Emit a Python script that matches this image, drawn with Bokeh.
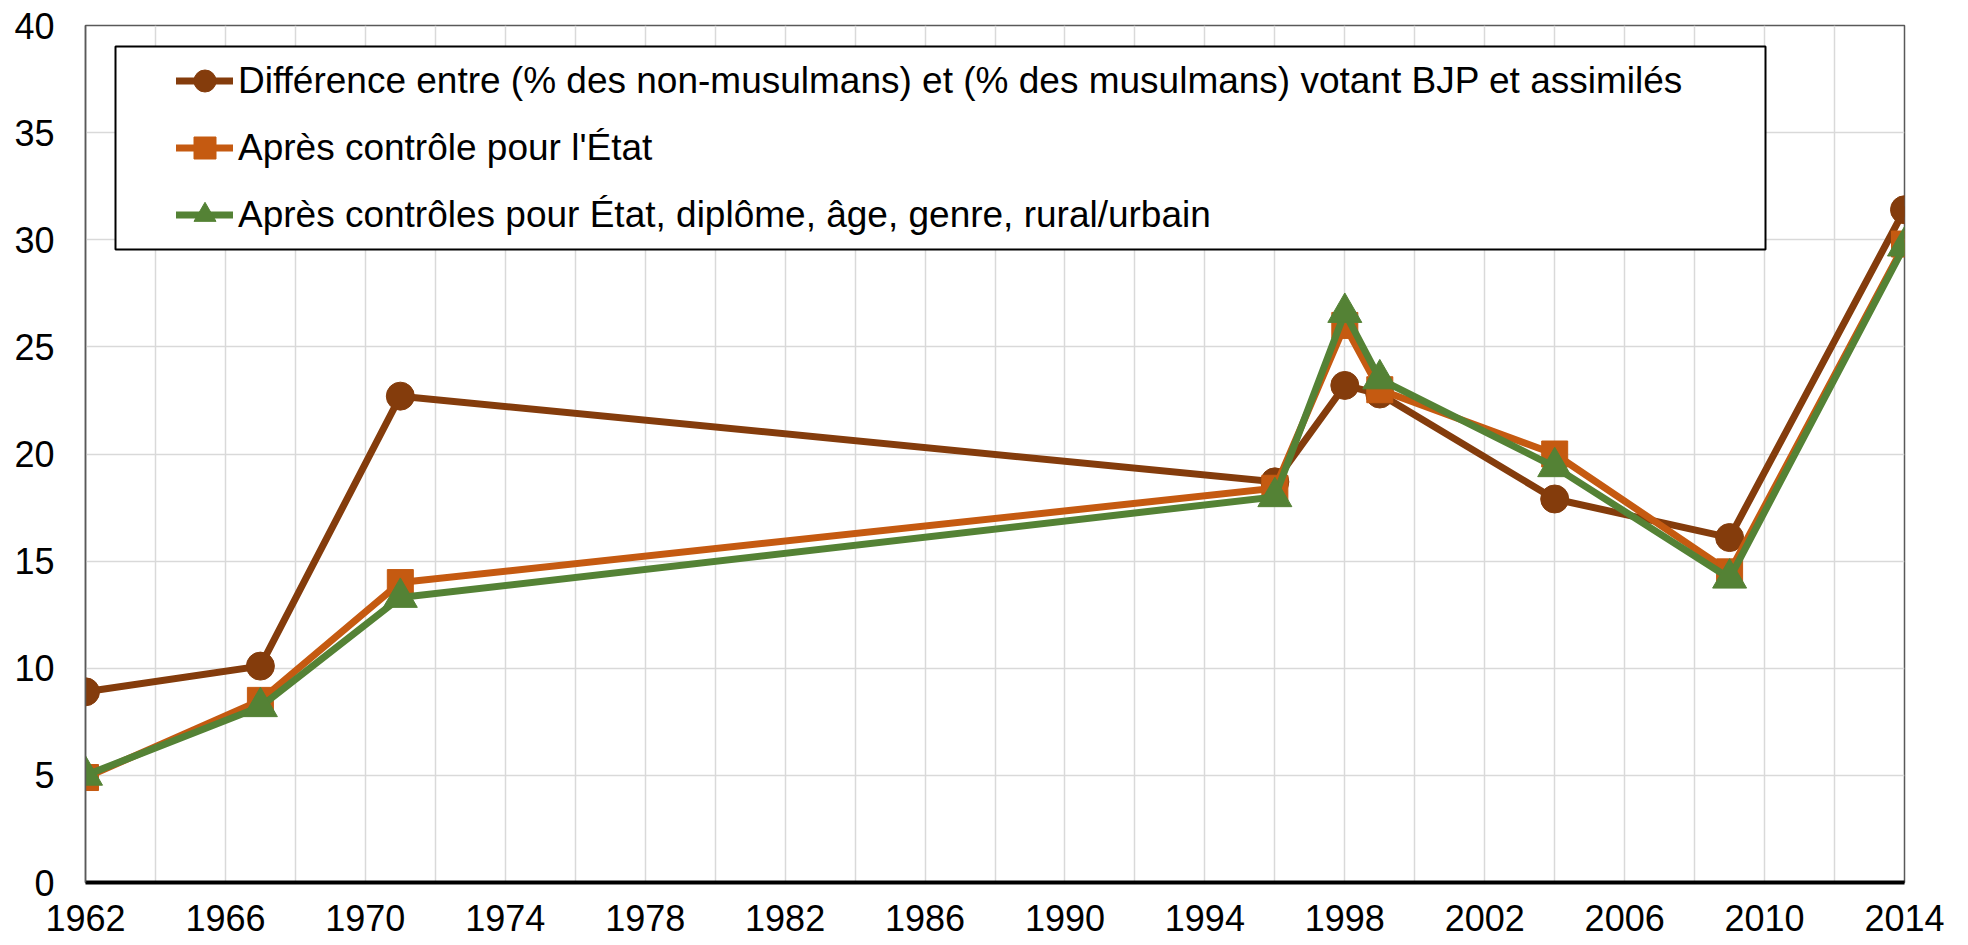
from bokeh.plotting import figure
from bokeh.models import Range1d, FixedTicker, Legend, LegendItem, BoxAnnotation
from bokeh.embed import file_html
from bokeh.resources import INLINE

years = [1962, 1967, 1971, 1996, 1998, 1999, 2004, 2009, 2014]
diff_raw = [8.9, 10.1, 22.7, 18.7, 23.2, 22.8, 17.9, 16.1, 31.4]
ctrl_state = [4.9, 8.5, 14.0, 18.4, 26.0, 23.0, 20.0, 14.5, 29.8]
ctrl_all = [5.0, 8.2, 13.3, 18.0, 26.6, 23.5, 19.4, 14.2, 29.7]

labels = [
    "Différence entre (% des non-musulmans) et (% des musulmans) votant BJP et assimilés",
    "Après contrôle pour l'État",
    "Après contrôles pour État, diplôme, âge, genre, rural/urbain",
]
colors = ["#843C0C", "#C55A11", "#548235"]
markers = ["circle", "square", "triangle"]
msizes = [28, 26, 34]

x_label_ticks = list(range(1962, 2015, 4))
x_grid_ticks = list(range(1962, 2015, 2))
y_ticks = list(range(0, 41, 5))

FONT = "Liberation Sans"
TICK_FS = "36px"
LEG_FS = "37px"

p = figure(width=1954, height=945, output_backend="svg", toolbar_location=None,
           x_range=Range1d(1962, 2014), y_range=Range1d(0, 40),
           min_border_left=85, min_border_right=50, min_border_top=25, min_border_bottom=63)
p.background_fill_color = "white"
p.border_fill_color = "white"
p.outline_line_color = "#595959"
p.outline_line_width = 1.5

p.xaxis.ticker = FixedTicker(ticks=x_label_ticks)
p.yaxis.ticker = FixedTicker(ticks=y_ticks)
p.xgrid.ticker = FixedTicker(ticks=x_grid_ticks)
p.ygrid.ticker = FixedTicker(ticks=y_ticks)
p.xgrid.grid_line_color = "#D9D9D9"
p.ygrid.grid_line_color = "#D9D9D9"
p.xgrid.grid_line_width = 1.5
p.ygrid.grid_line_width = 1.5

for ax in (p.xaxis, p.yaxis):
    ax.major_tick_line_color = None
    ax.minor_tick_line_color = None
    ax.major_tick_out = 0
    ax.major_tick_in = 0
    ax.major_label_text_font = FONT
    ax.major_label_text_font_size = TICK_FS
    ax.major_label_text_color = "black"
p.xaxis.axis_line_color = "black"
p.xaxis.axis_line_width = 4
p.yaxis.axis_line_color = "#595959"
p.yaxis.axis_line_width = 1.5
p.xaxis.major_label_standoff = 22
p.yaxis.major_label_standoff = 31

box = BoxAnnotation(left=30, right=1680, bottom=633, top=836,
                    left_units="screen", right_units="screen",
                    bottom_units="screen", top_units="screen",
                    fill_color="white", fill_alpha=1.0,
                    line_color="black", line_alpha=1.0, line_width=2)
p.add_layout(box)

items = []
for ys, c, m, s, lab in zip([diff_raw, ctrl_state, ctrl_all], colors, markers, msizes, labels):
    ln = p.line(years, ys, line_color=c, line_width=7, line_join="round", line_cap="round")
    sc = p.scatter(years, ys, marker=m, size=s, fill_color=c, line_color=c, line_width=1)
    items.append(LegendItem(label=lab, renderers=[ln, sc]))

legend = Legend(items=items, location=(91, 640), margin=0, padding=0,
                glyph_width=57, glyph_height=55, label_height=55,
                spacing=12, label_standoff=5,
                label_text_font=FONT, label_text_font_size=LEG_FS,
                label_text_color="black", label_text_baseline="middle",
                border_line_alpha=0, background_fill_alpha=0)
p.add_layout(legend, "center")

open("out.html", "w").write(file_html(p, INLINE))
